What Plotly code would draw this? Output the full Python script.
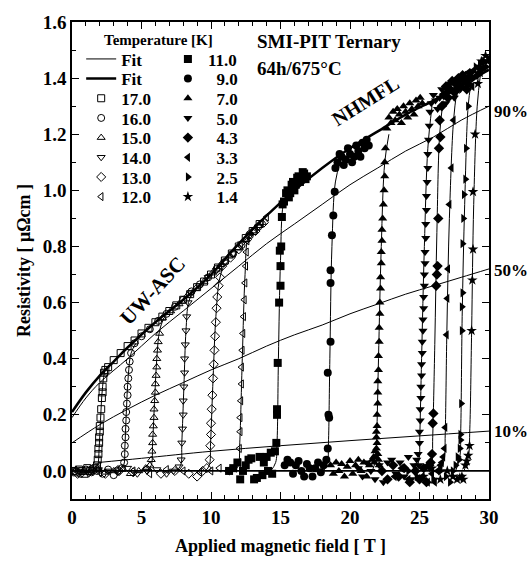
import plotly.graph_objects as go

# ---- data: field [T], resistivity [uOhm cm] ----
temps_open = ["17.0", "16.0", "15.0", "14.0", "13.0", "12.0"]
temps_filled = ["11.0", "9.0", "7.0", "5.0", "4.3", "3.3", "2.5", "1.4"]

# UW-ASC sweeps (open symbols)
h17 = [0.1, 0.3, 0.5, 0.7, 0.9, 1.1, 1.3, 1.5, 1.7, 1.8, 1.85, 1.9, 1.9, 1.95, 1.95, 2.0, 2.0, 2.05, 2.1,
       2.15, 2.2, 2.2, 2.25, 2.3, 2.4, 2.6, 3.0, 3.5, 4.0, 4.5, 5.0, 5.5, 6.0, 6.5, 7.0, 7.5, 8.0, 8.5,
       9.0, 9.5, 10.0, 10.5, 11.0, 11.5, 12.0, 12.5, 13.0, 13.5]
r17 = [0.0, -0.005, 0.005, 0.0, -0.01, 0.01, 0.0, 0.005, 0.01, 0.02, 0.04, 0.06, 0.08, 0.1, 0.12, 0.14,
       0.16, 0.19, 0.22, 0.26, 0.28, 0.30, 0.33, 0.35, 0.36, 0.37, 0.395, 0.42, 0.445, 0.465, 0.49, 0.51,
       0.53, 0.55, 0.57, 0.59, 0.61, 0.63, 0.655, 0.675, 0.70, 0.725, 0.75, 0.775, 0.80, 0.83, 0.855, 0.88]

h16 = [0.2, 0.6, 1.0, 1.4, 1.8, 2.2, 2.6, 3.0, 3.3, 3.6, 3.75, 3.8, 3.8, 3.85, 3.85, 3.9, 3.9, 3.95, 4.0,
       4.0, 4.05, 4.1, 4.15, 4.25, 4.5, 5.0, 5.6, 6.2, 6.8, 7.4, 8.0, 8.6, 9.2, 9.8, 10.4, 11.0, 11.6,
       12.2, 12.8, 13.4]
r16 = [0.0, -0.01, 0.005, -0.005, 0.0, -0.01, 0.005, -0.015, 0.0, 0.01, 0.03, 0.06, 0.09, 0.12, 0.15,
       0.18, 0.21, 0.24, 0.27, 0.30, 0.33, 0.36, 0.39, 0.42, 0.455, 0.48, 0.505, 0.535, 0.56, 0.585, 0.61,
       0.64, 0.665, 0.69, 0.72, 0.745, 0.775, 0.805, 0.84, 0.87]

h15 = [0.3, 0.8, 1.3, 1.8, 2.4, 3.0, 3.6, 4.2, 4.8, 5.3, 5.6, 5.7, 5.75, 5.8, 5.8, 5.85, 5.9, 5.9, 5.95,
       6.0, 6.0, 6.05, 6.1, 6.1, 6.15, 6.2, 6.3, 6.5, 7.1, 7.7, 8.3, 8.9, 9.5, 10.1, 10.7, 11.3, 11.9,
       12.5, 13.1, 13.7]
r15 = [0.005, -0.005, 0.0, 0.01, -0.005, 0.0, 0.005, -0.01, 0.0, 0.01, 0.02, 0.04, 0.07, 0.10, 0.13,
       0.16, 0.19, 0.22, 0.25, 0.28, 0.31, 0.34, 0.37, 0.40, 0.43, 0.46, 0.49, 0.545, 0.57, 0.595, 0.625,
       0.65, 0.675, 0.705, 0.735, 0.765, 0.795, 0.825, 0.855, 0.885]

h14 = [0.5, 1.2, 1.9, 2.6, 3.3, 4.0, 4.7, 5.4, 6.1, 6.8, 7.3, 7.7, 7.85, 7.9, 7.95, 8.0, 8.0, 8.05, 8.1,
       8.1, 8.15, 8.2, 8.25, 8.35, 8.6, 9.2, 9.8, 10.4, 11.0, 11.6, 12.2, 12.8, 13.4]
r14 = [0.0, -0.01, 0.005, 0.0, -0.005, 0.01, -0.01, 0.0, 0.005, -0.01, 0.0, 0.015, 0.04, 0.10, 0.15,
       0.20, 0.25, 0.30, 0.35, 0.40, 0.45, 0.50, 0.55, 0.60, 0.635, 0.66, 0.69, 0.715, 0.745, 0.775,
       0.81, 0.84, 0.87]

h13 = [0.4, 1.4, 2.4, 3.4, 4.4, 5.4, 6.4, 7.4, 8.4, 9.0, 9.4, 9.7, 9.9, 9.95, 10.0, 10.0, 10.05, 10.1,
       10.15, 10.2, 10.25, 10.3, 10.35, 10.4, 10.45, 10.55, 10.65, 10.8, 11.4, 12.0, 12.6, 13.2, 13.8]
r13 = [-0.01, 0.005, -0.01, 0.0, -0.005, 0.005, -0.01, 0.0, -0.01, -0.02, 0.0, 0.01, 0.04, 0.09, 0.13,
       0.17, 0.22, 0.27, 0.33, 0.38, 0.43, 0.48, 0.53, 0.58, 0.62, 0.66, 0.69, 0.73, 0.76, 0.79, 0.825,
       0.855, 0.885]

h12 = [0.8, 2.0, 3.2, 4.4, 5.6, 6.8, 8.0, 9.2, 10.0, 10.6, 11.2, 11.7, 12.0, 12.05, 12.1, 12.1, 12.15,
       12.2, 12.2, 12.25, 12.3, 12.35, 12.4, 12.45, 12.5, 12.55, 12.6, 12.8, 13.2, 13.6, 14.0]
r12 = [0.0, -0.005, 0.005, 0.0, -0.01, 0.005, 0.0, -0.005, 0.0, 0.01, 0.0, 0.01, 0.03, 0.08, 0.14, 0.19,
       0.25, 0.31, 0.37, 0.43, 0.49, 0.55, 0.61, 0.67, 0.73, 0.78, 0.82, 0.85, 0.865, 0.885, 0.905]

# NHMFL sweeps (filled symbols)
h11 = [11.3, 11.6, 11.9, 12.1, 12.3, 12.5, 12.7, 12.9, 13.1, 13.3, 13.5, 13.7, 13.8, 14.0, 14.1, 14.3,
       14.4, 14.6, 14.7, 14.75, 14.75, 14.8, 14.9, 15.0, 15.0, 14.95, 15.05, 15.1, 15.15, 15.25, 15.4,
       15.5, 15.6, 15.7, 15.8, 15.9, 16.0, 16.1, 16.2, 16.3, 16.4, 16.5, 16.6, 16.7, 16.8, 16.9]
r11 = [0.0, 0.01, 0.03, -0.03, 0.0, 0.02, 0.04, 0.045, -0.03, -0.025, 0.05, -0.015, 0.03, 0.05, 0.0,
       0.065, -0.01, 0.07, 0.10, 0.20, 0.22, 0.385, 0.60, 0.66, 0.73, 0.785, 0.80, 0.905, 0.95, 0.96,
       0.99, 1.0, 0.975, 0.99, 1.02, 1.03, 1.0, 1.02, 1.045, 1.05, 1.03, 1.04, 1.065, 1.06, 1.04, 1.05]

h9 = [15.3, 15.5, 15.7, 15.9, 16.1, 16.3, 16.5, 16.7, 16.9, 17.1, 17.3, 17.5, 17.7, 17.9, 18.1, 18.3,
      18.4, 18.5, 18.45, 18.4, 18.6, 18.6, 18.6, 18.7, 18.8, 18.9, 18.95, 19.1, 19.25, 19.4, 19.55,
      19.7, 19.85, 20.0, 20.15, 20.3, 20.45, 20.6, 20.75, 20.9, 21.05, 21.2, 21.35]
r9 = [0.02, 0.04, 0.03, -0.01, 0.02, 0.035, 0.0, -0.02, 0.025, 0.01, -0.02, 0.01, 0.03, -0.005, 0.02,
      0.04, 0.08, 0.19, 0.20, 0.35, 0.46, 0.67, 0.715, 0.84, 0.91, 0.995, 1.08, 1.10, 1.13, 1.12, 1.09,
      1.11, 1.15, 1.13, 1.10, 1.12, 1.16, 1.14, 1.12, 1.17, 1.15, 1.18, 1.16]

h7 = [18.6, 18.8, 19.0, 19.2, 19.4, 19.6, 19.8, 20.0, 20.2, 20.4, 20.6, 20.8, 21.0, 21.2, 21.4, 21.6,
      21.7, 21.75, 21.8, 21.85, 21.9, 21.95, 22.0, 22.05, 22.1, 21.9, 21.9, 21.95, 21.95, 22.0, 22.0,
      22.0, 22.05, 22.05, 22.1, 22.1, 22.15, 22.15, 22.2, 22.2, 22.25, 22.25, 22.3, 22.3, 22.35, 22.4,
      22.45, 22.5, 22.5, 22.55, 22.65, 22.8, 22.95, 23.1, 23.25, 23.4, 23.55, 23.7, 23.85, 24.0, 24.15,
      24.3, 24.45, 24.6, 24.75, 24.9, 25.05, 25.2]
r7 = [0.02, -0.01, 0.03, 0.0, 0.025, -0.02, 0.015, 0.035, -0.01, 0.02, 0.04, 0.0, 0.03, -0.02, 0.02,
      0.04, 0.05, 0.03, 0.07, 0.05, 0.08, 0.10, 0.06, 0.04, 0.02, 0.12, 0.14, 0.16, 0.20, 0.24, 0.28,
      0.32, 0.36, 0.41, 0.46, 0.51, 0.56, 0.60, 0.65, 0.69, 0.74, 0.78, 0.82, 0.86, 0.90, 0.95, 1.0,
      1.05, 1.10, 1.15, 1.22, 1.26, 1.24, 1.28, 1.25, 1.29, 1.27, 1.24, 1.30, 1.28, 1.26, 1.31, 1.29,
      1.27, 1.32, 1.30, 1.33, 1.31]

h5 = [20.6, 20.9, 21.2, 21.5, 21.8, 22.1, 22.4, 22.7, 23.0, 23.3, 23.6, 23.9, 24.2, 24.4, 24.6, 24.8,
      24.9, 24.95, 25.0, 25.0, 25.05, 25.05, 25.1, 25.1, 25.15, 25.15, 25.2, 25.2, 25.25, 25.25, 25.3,
      25.3, 25.35, 25.35, 25.4, 25.4, 25.45, 25.45, 25.5, 25.5, 25.55, 25.6, 25.6, 25.65, 25.7, 25.75,
      25.85, 26.0, 26.15, 26.3, 26.45, 26.6, 26.75, 26.9, 27.05, 27.2, 27.35, 27.5, 27.65, 27.8, 27.95]
r5 = [0.01, -0.02, 0.03, 0.0, -0.03, 0.02, -0.04, 0.03, 0.04, -0.01, 0.03, -0.02, 0.05, -0.03, 0.02,
      0.04, 0.06, 0.02, 0.10, 0.14, 0.18, 0.22, 0.26, 0.30, 0.34, 0.38, 0.42, 0.46, 0.50, 0.54, 0.58,
      0.62, 0.66, 0.70, 0.74, 0.78, 0.83, 0.88, 0.93, 0.98, 1.03, 1.08, 1.13, 1.18, 1.23, 1.28, 1.31,
      1.34, 1.32, 1.29, 1.33, 1.36, 1.34, 1.31, 1.35, 1.38, 1.36, 1.33, 1.37, 1.39, 1.36]

h43 = [22.3, 22.7, 23.1, 23.5, 23.9, 24.3, 24.7, 25.0, 25.3, 25.5, 25.7, 25.8, 25.9, 25.95, 26.0, 26.2,
       26.25, 26.3, 26.35, 26.4, 26.5, 26.45, 26.6, 26.75, 26.9, 27.05, 27.2, 27.35, 27.5, 27.65, 27.8,
       27.95, 28.1, 28.25, 28.4, 28.55]
r43 = [0.0, -0.03, 0.02, -0.02, 0.01, -0.04, 0.0, -0.03, 0.01, -0.04, 0.02, 0.03, 0.06, 0.17, 0.205,
       0.66, 0.70, 0.73, 0.90, 1.15, 1.19, 1.25, 1.30, 1.34, 1.37, 1.33, 1.36, 1.39, 1.35, 1.38, 1.40,
       1.37, 1.41, 1.39, 1.36, 1.40]

h33 = [23.2, 23.7, 24.2, 24.7, 25.2, 25.6, 25.9, 26.1, 26.3, 26.5, 26.6, 26.7, 26.8, 26.85, 26.95, 27.0,
       27.05, 27.15, 27.3, 27.45, 27.6, 27.75, 27.9, 28.05, 28.2, 28.35, 28.5, 28.65, 28.8, 28.95, 29.1,
       29.25, 29.4]
r33 = [-0.02, 0.01, -0.03, 0.0, -0.02, -0.04, -0.01, -0.04, 0.0, 0.02, 0.03, 0.05, 0.08, 0.155, 0.485,
       0.615, 0.72, 0.95, 1.08, 1.25, 1.35, 1.36, 1.39, 1.37, 1.41, 1.38, 1.42, 1.40, 1.37, 1.43, 1.41,
       1.44, 1.42]

h25 = [24.2, 24.8, 25.4, 26.0, 26.5, 26.9, 27.2, 27.4, 27.6, 27.75, 27.85, 27.9, 27.95, 27.95, 28.0,
       28.05, 28.05, 28.1, 28.1, 28.15, 28.2, 28.3, 28.35, 28.5, 28.6, 28.75, 28.9, 29.05, 29.2, 29.35,
       29.5, 29.65, 29.8, 29.95]
r25 = [0.0, -0.02, 0.01, -0.03, 0.0, -0.02, -0.04, 0.0, 0.02, 0.05, 0.04, 0.08, 0.11, 0.13, 0.24, 0.50,
       0.585, 0.635, 0.81, 0.90, 0.985, 1.04, 1.15, 1.30, 1.38, 1.42, 1.40, 1.44, 1.41, 1.45, 1.43, 1.46,
       1.44, 1.47]

h14k = [25.3, 25.9, 26.5, 27.0, 27.4, 27.7, 27.9, 28.05, 28.15, 28.3, 28.4, 28.5, 28.6, 28.75, 28.8,
        28.85, 28.85, 29.0, 29.2, 29.3, 29.45, 29.6, 29.75, 29.9]
r14k = [-0.02, 0.01, -0.03, 0.0, -0.02, -0.03, -0.025, -0.02, -0.03, 0.02, 0.035, 0.055, 0.09, 0.50,
        0.68, 0.79, 0.995, 1.2, 1.38, 1.43, 1.46, 1.44, 1.48, 1.46]

open_h = [h17, h16, h15, h14, h13, h12]
open_r = [r17, r16, r15, r14, r13, r12]
filled_h = [h11, h9, h7, h5, h43, h33, h25, h14k]
filled_r = [r11, r9, r7, r5, r43, r33, r25, r14k]
open_symbols = ["square-open", "circle-open", "triangle-up-open", "triangle-down-open",
                "diamond-open", "triangle-left-open"]
filled_symbols = ["square", "circle", "triangle-up", "triangle-down", "diamond",
                  "triangle-left", "triangle-right", "star"]

# thin fits through each transition (17 K ... 1.4 K)
fit_h = [
    [1.6, 1.85, 1.95, 2.05, 2.2, 2.4, 2.8],
    [3.4, 3.72, 3.8, 3.9, 4.05, 4.25, 4.6],
    [5.4, 5.7, 5.8, 5.95, 6.1, 6.3, 6.6],
    [7.5, 7.82, 7.9, 8.05, 8.2, 8.38, 8.7],
    [9.6, 9.88, 9.97, 10.15, 10.35, 10.6, 10.9],
    [11.7, 11.97, 12.07, 12.25, 12.45, 12.65, 13.0],
    [14.3, 14.65, 14.75, 14.85, 15.0, 15.2, 15.5],
    [18.1, 18.38, 18.45, 18.55, 18.7, 18.95, 19.3],
    [21.6, 21.85, 21.92, 22.05, 22.25, 22.5, 22.8],
    [24.7, 24.97, 25.02, 25.15, 25.35, 25.6, 25.9],
    [25.6, 25.88, 25.95, 26.1, 26.25, 26.45, 26.7],
    [26.5, 26.78, 26.85, 26.97, 27.15, 27.45, 27.7],
    [27.6, 27.9, 27.97, 28.07, 28.25, 28.5, 28.7],
    [28.2, 28.52, 28.62, 28.75, 28.9, 29.15, 29.4],
]
fit_r = [
    [0.0, 0.02, 0.08, 0.18, 0.30, 0.36, 0.385],
    [0.0, 0.02, 0.08, 0.20, 0.34, 0.42, 0.455],
    [0.0, 0.02, 0.10, 0.26, 0.40, 0.50, 0.545],
    [0.0, 0.02, 0.10, 0.30, 0.50, 0.60, 0.64],
    [0.0, 0.02, 0.10, 0.33, 0.55, 0.68, 0.73],
    [0.0, 0.02, 0.10, 0.40, 0.70, 0.83, 0.86],
    [0.0, 0.03, 0.10, 0.40, 0.75, 0.95, 0.99],
    [0.0, 0.03, 0.10, 0.40, 0.80, 1.03, 1.10],
    [0.0, 0.04, 0.12, 0.40, 0.80, 1.10, 1.20],
    [0.0, 0.04, 0.12, 0.40, 0.80, 1.15, 1.30],
    [0.0, 0.03, 0.12, 0.45, 0.85, 1.20, 1.32],
    [0.0, 0.04, 0.13, 0.50, 0.90, 1.25, 1.36],
    [0.0, 0.05, 0.15, 0.55, 0.95, 1.30, 1.38],
    [0.0, 0.05, 0.15, 0.50, 0.95, 1.30, 1.42],
]

normal_h = [0, 1, 2, 3, 4, 6, 8, 10, 12, 14, 16, 18, 20, 22, 24, 26, 28, 30]
normal_r = [0.21, 0.28, 0.34, 0.39, 0.44, 0.53, 0.61, 0.70, 0.81, 0.91, 1.00, 1.08, 1.15, 1.21, 1.27,
            1.32, 1.375, 1.43]

p90_h = [0, 1, 2, 4, 6, 8, 10, 12, 14, 16, 18, 20, 22, 24, 26, 28, 30]
p90_r = [0.19, 0.26, 0.315, 0.40, 0.49, 0.57, 0.65, 0.73, 0.81, 0.88, 0.95, 1.02, 1.08, 1.14, 1.19,
         1.25, 1.30]
p50_h = [0, 2, 4, 6, 8, 10, 12, 14, 16, 18, 20, 22, 24, 26, 28, 30]
p50_r = [0.10, 0.165, 0.22, 0.27, 0.315, 0.36, 0.40, 0.445, 0.485, 0.52, 0.56, 0.595, 0.63, 0.66, 0.69,
         0.72]
p10_h = [1.9, 5, 10, 15, 20, 25, 30]
p10_r = [0.03, 0.045, 0.07, 0.09, 0.108, 0.125, 0.142]

zero_h = [0, 30]
zero_r = [0, 0]

FONT = "Liberation Serif"

# legend rows (page pixels, centre of each row) for the two columns
row_px = [52, 72, 92, 112, 132, 152, 172, 192]


def paper_y(px):
    return (499 - px) / 485


fig = go.Figure()

fig.add_trace(go.Scatter(x=fit_h[0], y=fit_r[0], mode="lines", name="Fit",
                         line=dict(color="black", width=1, shape="spline"), legend="legend"))
fig.add_trace(go.Scatter(x=normal_h, y=normal_r, mode="lines", name="Fit",
                         line=dict(color="black", width=2.5, shape="spline"), legend="legend2"))

for i, (name, hx, ry, sym) in enumerate(zip(temps_open, open_h, open_r, open_symbols)):
    lid = "legend%d" % (i + 3)
    fig.add_trace(go.Scatter(x=hx, y=ry, mode="markers", name=name, legend=lid,
                             marker=dict(symbol=sym, size=7, color="black",
                                         line=dict(width=1, color="black"))))

for i, (name, hx, ry, sym) in enumerate(zip(temps_filled, filled_h, filled_r, filled_symbols)):
    lid = "legend%d" % (i + 9)
    label = name if len(name) == 4 else "\u2007" + name
    fig.add_trace(go.Scatter(x=hx, y=ry, mode="markers", name=label, legend=lid,
                             marker=dict(symbol=sym, size=8, color="black", line=dict(width=0))))

for hx, ry in zip(fit_h[1:], fit_r[1:]):
    fig.add_trace(go.Scatter(x=hx, y=ry, mode="lines", showlegend=False,
                             line=dict(color="black", width=1, shape="spline")))

for hx, ry in [(p90_h, p90_r), (p50_h, p50_r), (p10_h, p10_r)]:
    fig.add_trace(go.Scatter(x=hx, y=ry, mode="lines", showlegend=False,
                             line=dict(color="black", width=1, shape="spline")))

fig.add_trace(go.Scatter(x=zero_h, y=zero_r, mode="lines", showlegend=False,
                         line=dict(color="black", width=1.8)))

axis_common = dict(
    showline=True, linecolor="black", linewidth=1.5, mirror="allticks",
    ticks="inside", ticklen=7, tickwidth=1.3, tickcolor="black",
    showgrid=False, zeroline=False,
    tickfont=dict(family=FONT, size=19, color="black", weight="bold"),
)

fig.update_layout(
    width=527, height=568,
    margin=dict(l=72, r=38, t=14, b=69),
    paper_bgcolor="white", plot_bgcolor="white",
    font=dict(family=FONT, color="black"),
    xaxis=dict(
        range=[0, 30], dtick=5, tick0=0,
        minor=dict(dtick=1, ticks="inside", ticklen=4, tickcolor="black", showgrid=False),
        title=dict(text="Applied magnetic field [ T ]", standoff=13,
                   font=dict(family=FONT, size=18, color="black", weight="bold")),
        **axis_common,
    ),
    yaxis=dict(
        range=[-0.1, 1.6], dtick=0.2, tick0=0, tickformat=".1f",
        minor=dict(dtick=0.1, ticks="inside", ticklen=4, tickcolor="black", showgrid=False),
        title=dict(text="Resistivity [ \u03bc\u03a9cm ]", standoff=7,
                   font=dict(family=FONT, size=18, color="black", weight="bold")),
        **axis_common,
    ),
)

# one small legend per row so the two columns sit on the reference's row spacing
legend_font = dict(family=FONT, size=17, color="black", weight="bold")
for n in range(1, 17):
    key = "legend" if n == 1 else "legend%d" % n
    col = 0 if n <= 8 else 1
    row = (n - 1) % 8
    fig.update_layout(**{key: dict(
        x=0.022 if col == 0 else 0.230, y=paper_y(row_px[row]),
        xanchor="left", yanchor="middle",
        bgcolor="rgba(0,0,0,0)", borderwidth=0, font=legend_font,
    )})

ann_font = dict(family=FONT, size=19, color="black", weight="bold")
fig.add_annotation(x=0.072, y=paper_y(32), xref="paper", yref="paper", text="Temperature [K]",
                   showarrow=False, xanchor="left", yanchor="middle",
                   font=dict(family=FONT, size=15, color="black", weight="bold"))
fig.add_annotation(x=13.2, y=1.53, text="SMI-PIT Ternary", showarrow=False, xanchor="left", font=ann_font)
fig.add_annotation(x=13.2, y=1.435, text="64h/675\u00b0C", showarrow=False, xanchor="left", font=ann_font)
fig.add_annotation(x=21.1, y=1.32, text="NHMFL", showarrow=False, textangle=-32,
                   font=dict(family=FONT, size=20, color="black", weight="bold"))
fig.add_annotation(x=5.8, y=0.64, text="UW-ASC", showarrow=False, textangle=-47,
                   font=dict(family=FONT, size=21, color="black", weight="bold"))
for lab, yv in [("90%", 1.28), ("50%", 0.715), ("10%", 0.14)]:
    fig.add_annotation(x=1.008, y=yv, xref="paper", yref="y", text=lab, showarrow=False,
                       xanchor="left", font=dict(family=FONT, size=17, color="black", weight="bold"))

fig.write_html("out.html", config={"displayModeBar": False},
               post_script="document.body.style.margin='0';")
